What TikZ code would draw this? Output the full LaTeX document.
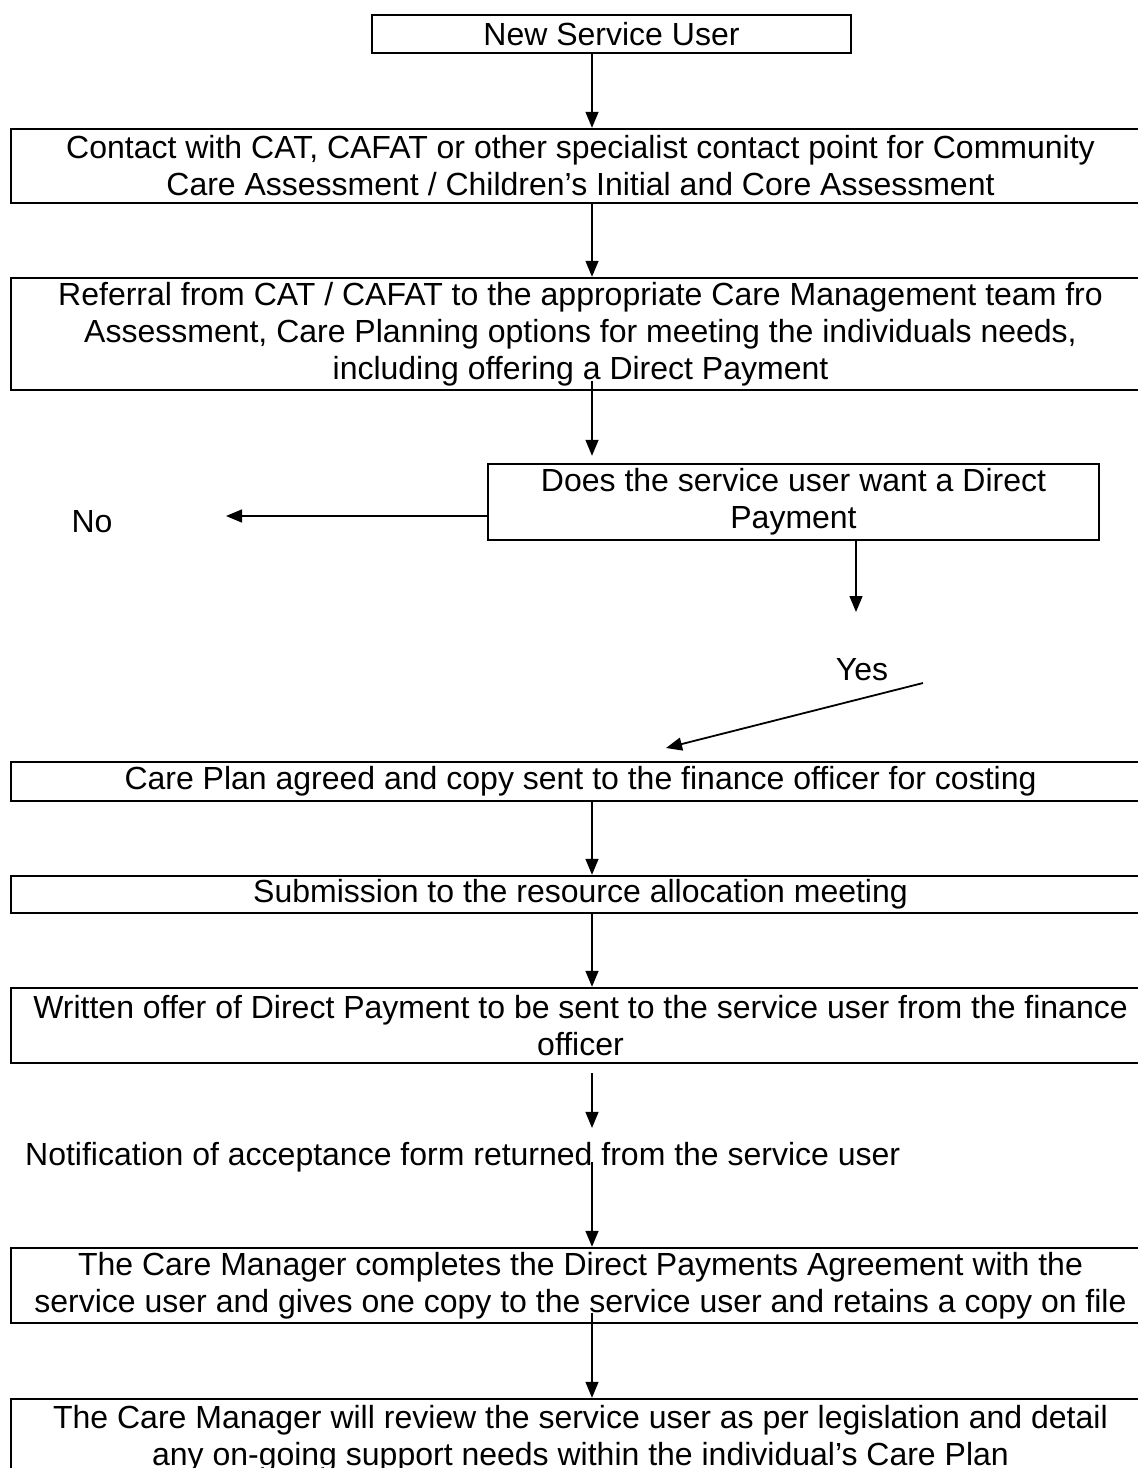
\documentclass[tikz,border=0pt]{standalone}
\usepackage{fontspec}
\setmainfont{Liberation Sans}
\usetikzlibrary{arrows.meta,calc}
\begin{document}
\begin{tikzpicture}[x=1pt,y=-1pt,
  txt/.style={font=\fontsize{32}{37}\selectfont},
  box/.style={txt, draw, line width=2.4pt, inner sep=0pt, align=center},
  wide/.style={box, minimum width=1139pt},
  lbl/.style={txt, inner sep=0pt},
  arr/.style={line width=1.4pt, -{Triangle[length=16pt,width=13pt]}}]
\useasboundingbox (0,0) rectangle (1138,1468);
\clip (0,0) rectangle (1138,1468);
\coordinate (ax) at (592,0);
\node[box, minimum width=479pt, minimum height=38pt] (b1) at (611.5,34) {New Service User};
\node[wide, minimum height=74pt] (b2) at (580.5,166) {Contact with CAT, CAFAT or other specialist contact point for Community\\Care Assessment / Children’s Initial and Core Assessment};
\node[wide, minimum height=112pt] (b3) at (580.5,334) {Referral from CAT / CAFAT to the appropriate Care Management team fro\\Assessment, Care Planning options for meeting the individuals needs,\\including offering a Direct Payment};
\node[box, minimum width=611pt, minimum height=76pt] (dec) at (793.5,502) {Does the service user want a Direct\\Payment};
\node[lbl] (no) at (92,522) {No};
\node[lbl] (yes) at (862,670) {Yes};
\node[wide, minimum height=39pt] (b4) at (580.5,781.5) {Care Plan agreed and copy sent to the finance officer for costing};
\node[wide, minimum height=37pt] (b5) at (580.5,894.5) {Submission to the resource allocation meeting};
\node[wide, minimum height=75pt] (b6) at (580.5,1025.5) {Written offer of Direct Payment to be sent to the service user from the finance\\officer};
\node[lbl, anchor=west] (notif) at (25,1157) {Notification of acceptance form returned from the service user};
\node[wide, minimum height=75pt] (b7) at (580.5,1285.5) {The Care Manager completes the Direct Payments Agreement with the\\service user and gives one copy to the service user and retains a copy on file};
\node[wide, minimum height=80pt] (b8) at (580.5,1439) {The Care Manager will review the service user as per legislation and detail\\any on-going support needs within the individual’s Care Plan};
\coordinate (noend) at (226,516);
\coordinate (yesdown) at (856,612);
\coordinate (ys) at (923,683);
\coordinate (ye) at (666,748);
\draw[arr] (b1.south -| ax) -- (b2.north -| ax);
\draw[arr] (b2.south -| ax) -- (b3.north -| ax);
\draw[arr] ($(b3.south -| ax)+(0,-10)$) -- ($(dec.north -| ax)+(0,-7)$);
\draw[arr] (dec.west |- noend) -- (noend);
\draw[arr] (dec.south -| yesdown) -- (yesdown);
\draw[arr, line width=1.8pt] (ys) -- (ye);
\draw[arr] (b4.south -| ax) -- (b5.north -| ax);
\draw[arr] (b5.south -| ax) -- (b6.north -| ax);
\draw[arr] ($(b6.south -| ax)+(0,9)$) -- ($(notif.north -| ax)+(0,-14)$);
\draw[arr] ($(notif.north -| ax)+(0,20)$) -- (b7.north -| ax);
\draw[arr] ($(b7.south -| ax)+(0,-11)$) -- (b8.north -| ax);
\end{tikzpicture}
\end{document}
